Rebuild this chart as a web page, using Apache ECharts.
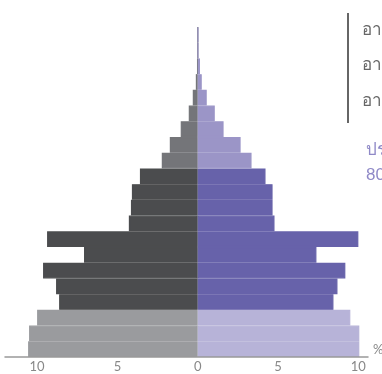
<!DOCTYPE html>
<html>
<head>
<meta charset="utf-8">
<script src="https://cdn.jsdelivr.net/npm/echarts@6/dist/echarts.min.js"></script>
<style>
  html, body { margin: 0; padding: 0; background: #fff; }
  #chart { width: 382px; height: 374px; }
</style>
</head>
<body>
<div id="chart"></div>
<script>
// กลุ่มอายุ (ล่าง -> บน)
var ageGroups = ['0-4', '5-9', '10-14', '15-19', '20-24', '25-29', '30-34', '35-39', '40-44',
  '45-49', '50-54', '55-59', '60-64', '65-69', '70-74', '75-79', '80-84', '85-89', '90-94',
  '95-99', '100+'];
// ร้อยละของประชากร
var maleShare = [10.56, 10.5, 10.0, 8.63, 8.82, 9.63, 7.08, 9.38, 4.29, 4.16, 4.1, 3.6,
  2.24, 1.74, 1.06, 0.56, 0.31, 0.12, 0.02, 0, 0];
var femaleShare = [10.06, 10.06, 9.5, 8.45, 8.7, 9.19, 7.39, 10.0, 4.78, 4.66, 4.66, 4.22,
  3.35, 2.67, 1.61, 1.06, 0.56, 0.25, 0.14, 0.03, 0.03];
var tickValues = [-10, -5, 0, 5, 10];
var legendNames = ['อายุ 60 ปีขึ้นไป', 'อายุ 15-59 ปี', 'อายุ 0-14 ปี'];

var maleColors = ['#9a9b9e', '#4b4c4e', '#747579'];
var femaleColors = ['#b7b3d8', '#6762aa', '#9b95c7'];

function groupOf(i) {
  if (i < 3) return 0;
  if (i < 12) return 1;
  return 2;
}

function barItem(v, color) {
  return {
    value: v,
    itemStyle: { color: color, borderColor: color, borderWidth: 1.2 }
  };
}

var myChart = echarts.init(document.getElementById('chart'));

var option = {
  animation: false,
  textStyle: { fontFamily: 'Lato, "Noto Sans", sans-serif' },
  grid: { left: 5, right: 14, top: 27, bottom: 17, outerBoundsMode: 'none', containLabel: false },
  xAxis: {
    type: 'value',
    min: -12,
    max: 10.6,
    z: 10,
    name: '%',
    nameLocation: 'end',
    nameGap: 5,
    nameTextStyle: { color: '#888', fontSize: 13, verticalAlign: 'bottom', padding: [0, 0, 1, 0] },
    axisLine: { show: true, lineStyle: { color: '#999', width: 1.5 } },
    axisTick: { show: false },
    splitLine: { show: false },
    axisLabel: {
      customValues: tickValues,
      color: '#888',
      fontSize: 13,
      margin: 3,
      formatter: function (v) { return Math.abs(v); }
    }
  },
  yAxis: {
    type: 'category',
    data: ageGroups,
    show: false
  },
  series: [
    {
      name: 'ชาย',
      type: 'bar',
      stack: 'pop',
      barCategoryGap: '0%',
      data: maleShare.map(function (v, i) { return barItem(-v, maleColors[groupOf(i)]); })
    },
    {
      name: 'หญิง',
      type: 'bar',
      stack: 'pop',
      barCategoryGap: '0%',
      data: femaleShare.map(function (v, i) { return barItem(v, femaleColors[groupOf(i)]); })
    }
  ],
  graphic: [
    { type: 'line', shape: { x1: 348, y1: 13, x2: 348, y2: 123 }, style: { stroke: '#333', lineWidth: 1.5 } },
    { type: 'text', left: 362, top: 22, style: { text: legendNames[0], fill: '#666', font: '17px sans-serif' } },
    { type: 'text', left: 362, top: 57, style: { text: legendNames[1], fill: '#666', font: '17px sans-serif' } },
    { type: 'text', left: 362, top: 93, style: { text: legendNames[2], fill: '#666', font: '17px sans-serif' } },
    { type: 'text', left: 366, top: 142, style: { text: 'ประชากรหญิง', fill: '#8f89c7', font: '17px sans-serif' } },
    { type: 'text', left: 366, top: 167, style: { text: '80.6 ล้านคน', fill: '#8f89c7', font: '17px sans-serif' } }
  ]
};

myChart.setOption(option);
</script>
</body>
</html>
